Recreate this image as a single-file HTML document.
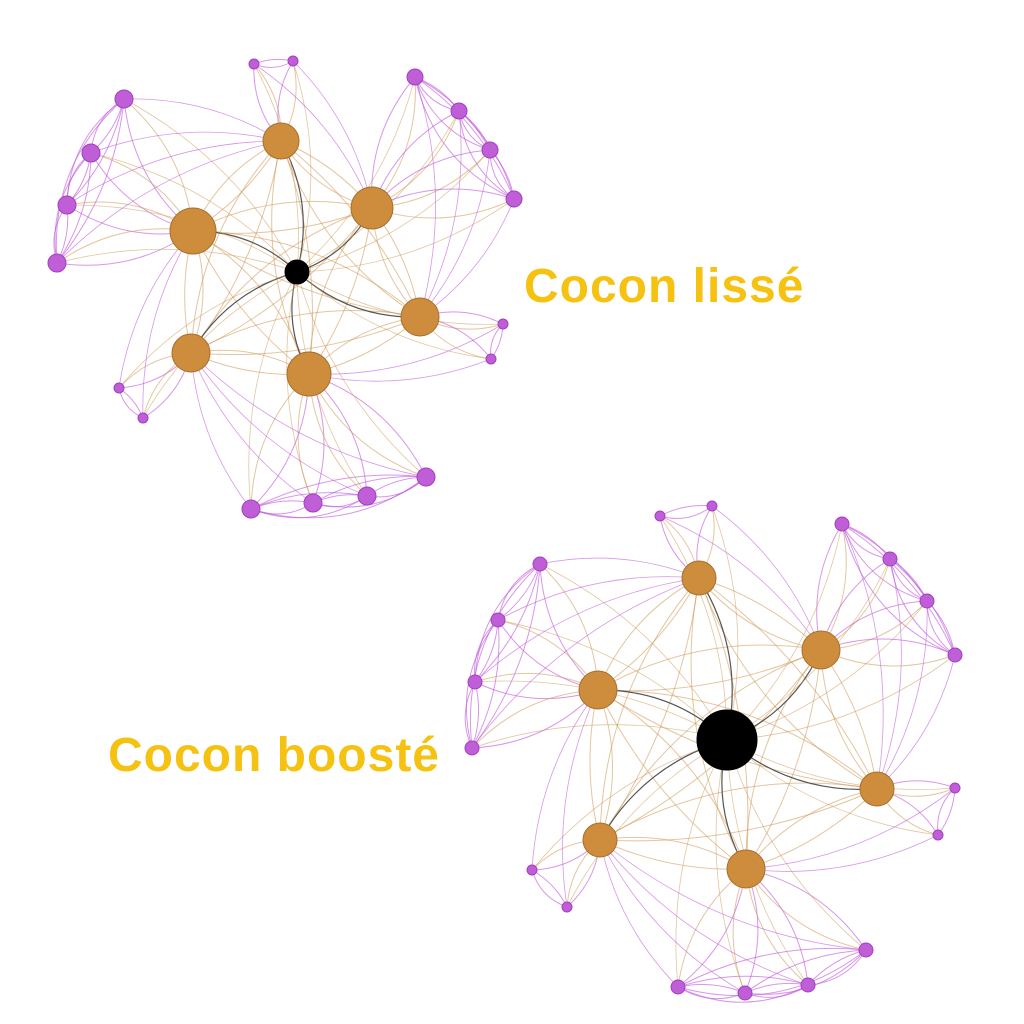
<!DOCTYPE html>
<html><head><meta charset="utf-8"><style>
html,body{margin:0;padding:0;background:#fff;width:1024px;height:1024px;overflow:hidden}
svg{position:absolute;left:0;top:0}
.t{position:absolute;font-family:"Liberation Sans",sans-serif;font-weight:bold;color:#F5C211;font-size:48px;letter-spacing:1px;white-space:nowrap}
</style></head><body>
<svg id="s" width="1024" height="1024" viewBox="0 0 1024 1024"></svg>
<div class="t" style="left:524px;top:259px">Cocon lissé</div>
<div class="t" style="left:108px;top:728px">Cocon boosté</div>
<script>
var s=document.getElementById('s');var NS='http://www.w3.org/2000/svg';
var eg=document.createElementNS(NS,'g');var ng=document.createElementNS(NS,'g');s.appendChild(eg);s.appendChild(ng);
function curve(a,b,col,w,k){var dx=b[0]-a[0],dy=b[1]-a[1];var mx=(a[0]+b[0])/2-dy*k,my=(a[1]+b[1])/2+dx*k;
var p=document.createElementNS(NS,'path');p.setAttribute('d','M'+a[0]+' '+a[1]+' Q'+mx+' '+my+' '+b[0]+' '+b[1]);
p.setAttribute('fill','none');p.setAttribute('stroke',col);p.setAttribute('stroke-width',w);eg.appendChild(p);}
function node(n,col,st){var c=document.createElementNS(NS,'circle');c.setAttribute('cx',n[0]);c.setAttribute('cy',n[1]);c.setAttribute('r',n[2]);c.setAttribute('fill',col);c.setAttribute('stroke',st);c.setAttribute('stroke-width',1);ng.appendChild(c);}
var BR='rgba(205,150,80,0.55)',PU='rgba(190,80,220,0.6)';
function graph(C,B,G){
 for(var i=0;i<B.length;i++)for(var j=i+1;j<B.length;j++){curve(B[i],B[j],BR,1,0.18);curve(B[j],B[i],BR,1,0.12);}
 B.forEach(function(b){curve(C,b,'#555',1.2,0.2);});
 G.forEach(function(g,gi){var p=B[g.p],q=B[(g.p+1)%B.length],r=B[(g.p+B.length-1)%B.length];
  g.n.forEach(function(n,i){curve(p,n,BR,1,0.2);curve(n,p,PU,1,0.2);curve(C,n,BR,0.8,0.15);curve(q,n,PU,0.8,0.15);
   for(var j=i+1;j<g.n.length;j++){curve(n,g.n[j],PU,1,0.25);curve(g.n[j],n,PU,1,0.15);}});});
 G.forEach(function(g){g.n.forEach(function(n){node(n,'#c05ed8','#a040c0');});});
 B.forEach(function(b){node(b,'#cd8d3c','#a86e2a');});
 node(C,'#000','#000');
}
graph([297,272,12],
 [[281,141,18],[372,208,21],[420,317,19],[309,374,22],[191,353,19],[193,231,23]],
 [{p:0,n:[[254,64,5],[293,61,5]]},{p:1,n:[[415,77,8],[459,111,8],[490,150,8],[514,199,8]]},
  {p:2,n:[[503,324,5],[491,359,5]]},{p:3,n:[[251,509,9],[313,503,9],[367,496,9],[426,477,9]]},
  {p:4,n:[[119,388,5],[143,418,5]]},{p:5,n:[[124,99,9],[91,153,9],[67,205,9],[57,263,9]]}]);
graph([727,740,30],
 [[699,578,17],[821,650,19],[877,789,17],[746,869,19],[600,840,17],[598,690,19]],
 [{p:0,n:[[660,516,5],[712,506,5]]},{p:1,n:[[842,524,7],[890,559,7],[927,601,7],[955,655,7]]},
  {p:2,n:[[955,788,5],[938,835,5]]},{p:3,n:[[678,987,7],[745,993,7],[808,985,7],[866,950,7]]},
  {p:4,n:[[532,870,5],[567,907,5]]},{p:5,n:[[540,564,7],[498,620,7],[475,682,7],[472,748,7]]}]);
</script>
</body></html>
